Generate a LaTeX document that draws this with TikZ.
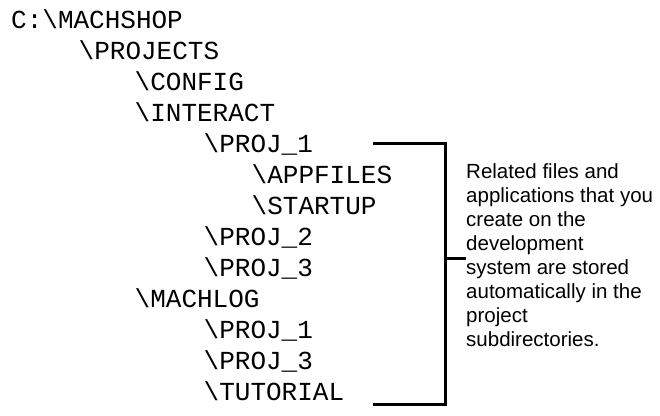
\documentclass[tikz,border=0pt]{standalone}
\usepackage{fontspec}
\setmainfont{Liberation Sans}
\setmonofont{Liberation Mono}
\usepackage{tikz}

\begin{document}
\begin{tikzpicture}[x=1pt, y=-1pt,
		every node/.style={anchor=base west, inner sep=0pt},
		dir/.style={font=\ttfamily\fontsize{26}{31}\selectfont},
		note/.style={align=left, font=\fontsize{20.5}{24.1}\selectfont},
		bracket/.style={line width=3pt, line join=miter}]
	\useasboundingbox (0,0) rectangle (660,415);
	\node[dir] (mach) at (11,28) {C:\textbackslash MACHSHOP};
	\node[dir] (projects) at (78.5,59) {\textbackslash PROJECTS};
	\node[dir] (config) at (134.5,90) {\textbackslash CONFIG};
	\node[dir] (interact) at (134.5,121) {\textbackslash INTERACT};
	\node[dir] (iproj1) at (203.5,152) {\textbackslash PROJ\_1};
	\node[dir] (appfiles) at (251.5,183) {\textbackslash APPFILES};
	\node[dir] (startup) at (251.5,214) {\textbackslash STARTUP};
	\node[dir] (iproj2) at (203.5,245) {\textbackslash PROJ\_2};
	\node[dir] (iproj3) at (203.5,276) {\textbackslash PROJ\_3};
	\node[dir] (machlog) at (134.5,307) {\textbackslash MACHLOG};
	\node[dir] (mproj1) at (203.5,338) {\textbackslash PROJ\_1};
	\node[dir] (mproj3) at (203.5,369) {\textbackslash PROJ\_3};
	\node[dir] (tutorial) at (203.5,400) {\textbackslash TUTORIAL};

	% base is the last line here
	\node[note] (note) at (466,346.7) {Related files and\\
		applications that you\\
		create on the\\
		development\\
		system are stored\\
		automatically in the\\
		project\\
		subdirectories.};

	\coordinate (top) at (373,143);
	\coordinate (bottom) at (373,404);
	\coordinate (bar) at (445,258);
	\draw[bracket] (top) -| (bar) |- (bottom);
	\draw[bracket] (bar) -- (note.west |- bar);
\end{tikzpicture}
\end{document}
